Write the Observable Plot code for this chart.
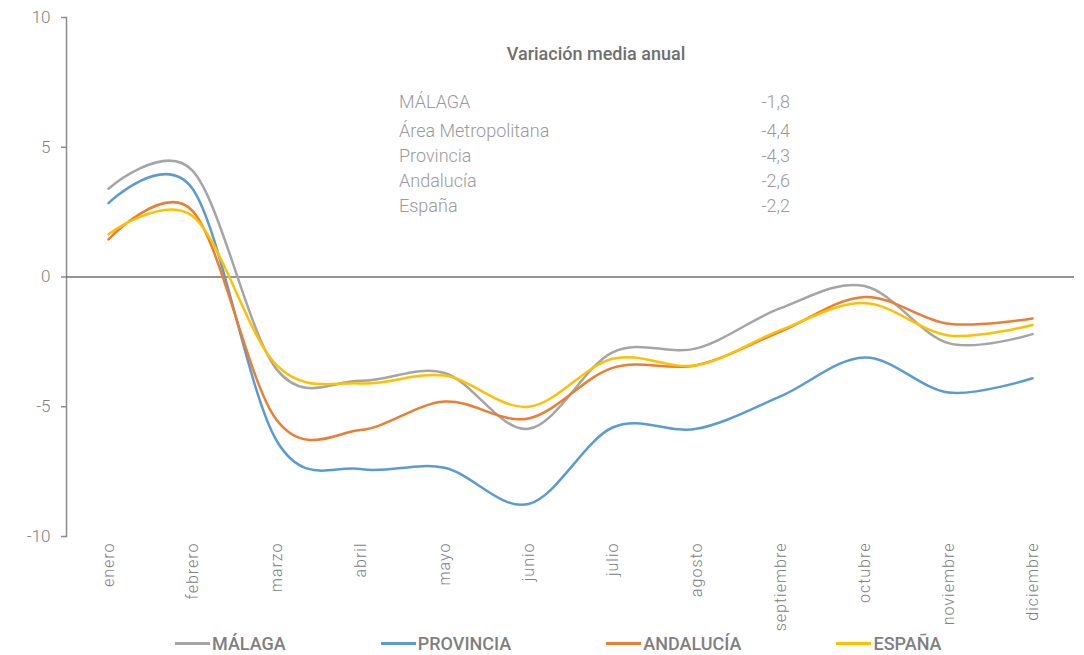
<!DOCTYPE html>
<html>
<head>
<meta charset="utf-8">
<script src="https://cdn.jsdelivr.net/npm/d3@7"></script>
<script src="https://cdn.jsdelivr.net/npm/@observablehq/plot@0.6"></script>
<style>
  body { margin: 0; background: #fff; font-family: Roboto, "Noto Sans", sans-serif; }
  #wrap { position: relative; width: 1084px; height: 655px; overflow: hidden; }
  #chart svg g[aria-label="x-axis tick label"] text { letter-spacing: 1px; }
  #note { position: absolute; left: 0; top: 0; width: 1084px; height: 230px; pointer-events: none; }
  #note .ttl { position: absolute; left: 446px; width: 300px; text-align: center; top: 43px; font-size: 18px; font-weight: 500; color: #6f6f6f; }
  #note .row { position: absolute; left: 399px; width: 391px; display: flex; justify-content: space-between; font-size: 18px; font-weight: 300; color: #9a9a9a; }
  #legend { position: absolute; left: 175px; top: 633px; display: flex; gap: 95px; font-size: 18px; font-weight: 500; color: #7f7f7f; }
  #legend .item { display: flex; align-items: center; }
  #legend .sw { width: 35px; height: 3px; margin-right: 2px; }
</style>
</head>
<body>
<div id="wrap">
  <div id="chart"></div>
  <div id="note"></div>
  <div id="legend"></div>
</div>
<script>
const months = ["enero","febrero","marzo","abril","mayo","junio","julio","agosto","septiembre","octubre","noviembre","diciembre"];
const seriesNames = ["MÁLAGA","PROVINCIA","ANDALUCÍA","ESPAÑA"];
const seriesColors = ["#A5A5A5","#5B9BD5","#ED7D31","#FFC000"];
const malaga    = [3.4, 4.1, -3.55, -4.0, -3.7, -5.85, -2.9, -2.75, -1.2, -0.35, -2.55, -2.2];
const provincia = [2.85, 3.4, -6.3, -7.4, -7.35, -8.75, -5.8, -5.85, -4.6, -3.1, -4.45, -3.9];
const andalucia = [1.45, 2.55, -5.5, -5.9, -4.8, -5.45, -3.5, -3.4, -2.1, -0.77, -1.8, -1.6];
const espana    = [1.65, 2.35, -3.4, -4.1, -3.8, -5.0, -3.15, -3.4, -2.05, -1.0, -2.25, -1.85];
const yTicks = [-10, -5, 0, 5, 10];
const noteTitle = "Variación media anual";
const noteLabels = ["MÁLAGA","Área Metropolitana","Provincia","Andalucía","España"];
const noteValues = ["-1,8","-4,4","-4,3","-2,6","-2,2"];

const seriesValues = [malaga, provincia, andalucia, espana];
const data = [];
seriesNames.forEach((s, i) => months.forEach((m, j) => data.push({mes: m, serie: s, valor: seriesValues[i][j]})));

const chart = Plot.plot({
  width: 1084,
  height: 632,
  marginLeft: 66,
  marginRight: 10,
  marginTop: 17,
  marginBottom: 96,
  style: {fontFamily: "Roboto, sans-serif", fontSize: "16px", color: "#808080", background: "#fff"},
  x: {type: "point", domain: months, padding: 0.5, label: null},
  y: {domain: [-10, 10], label: null},
  color: {domain: seriesNames, range: seriesColors},
  marks: [
    Plot.frame({anchor: "left", stroke: "#8c8c8c", strokeWidth: 1.5}),
    Plot.axisY({ticks: yTicks, tickFormat: d => String(d), tickSize: 5, tickPadding: 11, stroke: "#8c8c8c", strokeWidth: 1.5, fill: "#7f7f7f", fontWeight: 300, fontSize: 17, label: null}),
    Plot.axisX({tickRotate: -90, tickSize: 0, tickPadding: 6, fill: "#808080", fontWeight: 300, fontSize: 16, label: null}),
    Plot.ruleY([0], {stroke: "#707070", strokeWidth: 1.5}),
    Plot.line(data, {x: "mes", y: "valor", z: "serie", stroke: "serie", strokeWidth: 2.5, curve: "cardinal", tension: 0})
  ]
});
document.getElementById("chart").appendChild(chart);

const note = document.getElementById("note");
const t = document.createElement("div");
t.className = "ttl"; t.textContent = noteTitle; note.appendChild(t);
const rowTops = [91, 120, 145, 170, 195];
noteLabels.forEach((l, i) => {
  const r = document.createElement("div");
  r.className = "row"; r.style.top = rowTops[i] + "px";
  const a = document.createElement("span"); a.textContent = l;
  const b = document.createElement("span"); b.textContent = noteValues[i];
  r.appendChild(a); r.appendChild(b); note.appendChild(r);
});

const legend = document.getElementById("legend");
seriesNames.forEach((s, i) => {
  const it = document.createElement("div"); it.className = "item";
  const sw = document.createElement("span"); sw.className = "sw"; sw.style.background = seriesColors[i];
  const tx = document.createElement("span"); tx.textContent = s;
  it.appendChild(sw); it.appendChild(tx); legend.appendChild(it);
});
</script>
</body>
</html>
